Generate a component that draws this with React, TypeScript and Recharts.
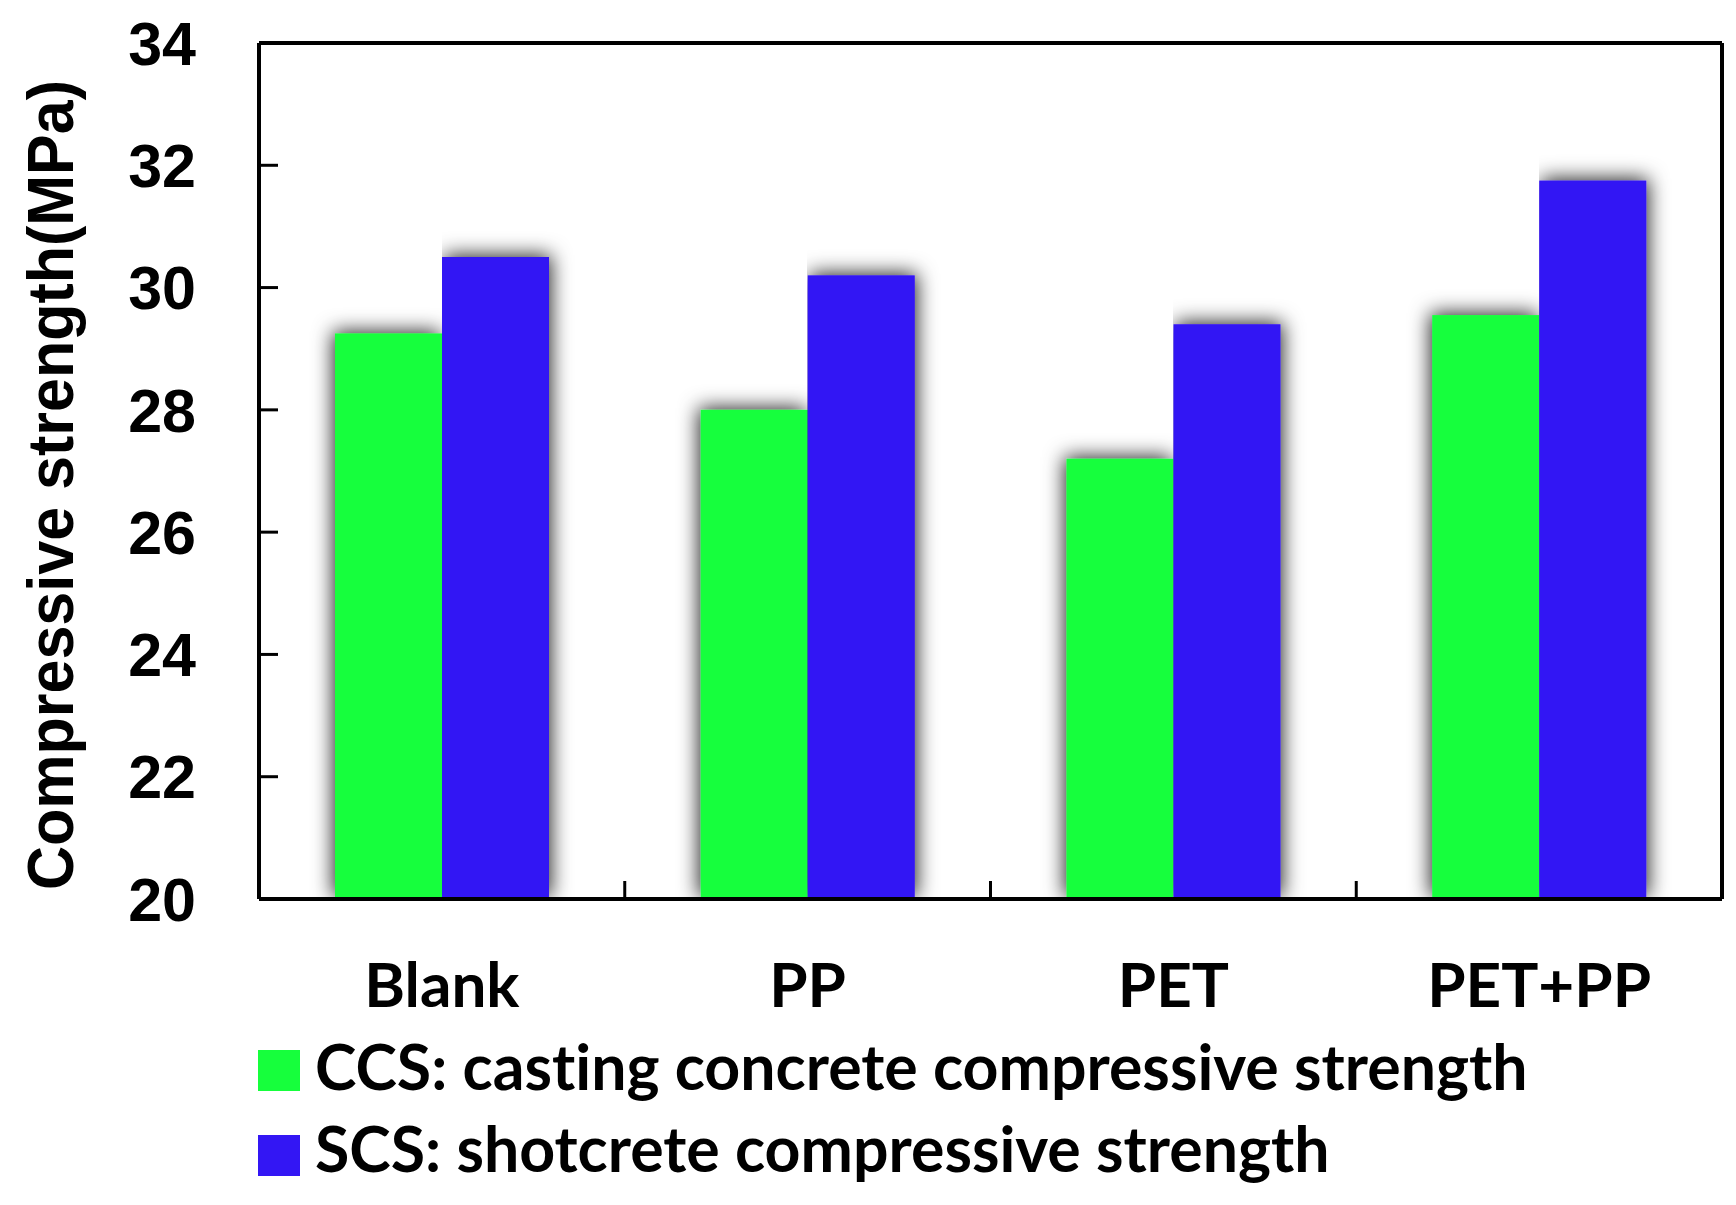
import { Bar, BarChart, Legend, XAxis, YAxis } from 'recharts';

const categories = ['Blank', 'PP', 'PET', 'PET+PP'];
const ccsValues = [29.25, 28.0, 27.2, 29.55];
const scsValues = [30.5, 30.2, 29.4, 31.75];
const yTicks = [20, 22, 24, 26, 28, 30, 32, 34];

const CCS_NAME = 'CCS: casting concrete compressive strength';
const SCS_NAME = 'SCS: shotcrete compressive strength';

const data = categories.map((name, i) => ({ name, ccs: ccsValues[i], scs: scsValues[i] }));

const GREEN = '#16ff3c';
const BLUE = '#3316f4';
const labelFont = 'Lato, "Open Sans", sans-serif';
const numberFont = '"Liberation Sans", Arial, sans-serif';
const X_TICK_MARGIN = 108;

function ShadowBar(props: any) {
  const { x, y, width, height, fill, filterId } = props;
  if (!height || height <= 0) return null;
  return <rect x={x} y={y} width={width} height={height} fill={fill} filter={`url(#${filterId})`} />;
}

// category label, plus the inward tick mark on the boundary to its right
function CategoryTick({ x, y, payload, index, width, visibleTicksCount }: any) {
  const half = payload.offset || width / visibleTicksCount / 2;
  const axisY = y - X_TICK_MARGIN;
  const isLast = index === visibleTicksCount - 1;
  return (
    <g>
      {!isLast && (
        <line x1={x + half} x2={x + half} y1={axisY} y2={axisY - 18} stroke="#000" strokeWidth={3} />
      )}
      <text
        x={x}
        y={y}
        textAnchor="middle"
        fontFamily={labelFont}
        fontWeight={700}
        fontSize={62}
        fill="#000"
        style={{ fontVariantLigatures: 'none' }}
      >
        {payload.value}
      </text>
    </g>
  );
}

function YLabel({ viewBox }: any) {
  const cx = viewBox.x + 14;
  const cy = viewBox.y + viewBox.height / 2 + 14;
  return (
    <text
      x={cx}
      y={cy}
      transform={`rotate(-90, ${cx}, ${cy})`}
      textAnchor="middle"
      fontFamily={numberFont}
      fontWeight={700}
      fontSize={65}
      textLength={810}
      lengthAdjust="spacingAndGlyphs"
      fill="#000"
    >
      Compressive strength(MPa)
    </text>
  );
}

function LegendBox({ payload }: any) {
  return (
    <svg width={1400} height={150} style={{ display: 'block' }}>
      {(payload || []).map((entry: any, i: number) => (
        <g key={entry.value}>
          <rect x={0} y={10 + 85 * i} width={42} height={41} fill={entry.color} />
          <text
            x={57}
            y={50 + 82 * i}
            fontFamily={labelFont}
            fontWeight={700}
            fontSize={62.6}
            fill="#000"
            style={{ fontVariantLigatures: 'none' }}
          >
            {entry.value}
          </text>
        </g>
      ))}
    </svg>
  );
}

export default function App() {
  return (
    <div style={{ position: 'absolute', left: 0, top: 0, width: 1736, height: 1205, background: '#fff' }}>
      <BarChart
        width={1736}
        height={1205}
        data={data}
        margin={{ top: 42, right: 13, bottom: 305, left: 59 }}
        barGap={0}
        barSize={107}
      >
        <defs>
          <filter id="shadowCcs" x="-40%" y="-12%" width="140%" height="112%">
            <feDropShadow dx="-2" dy="-2" stdDeviation="10" floodColor="#000" floodOpacity="0.85" />
          </filter>
          <filter id="shadowScs" x="0%" y="-12%" width="140%" height="112%">
            <feDropShadow dx="2" dy="-2" stdDeviation="10" floodColor="#000" floodOpacity="0.85" />
          </filter>
        </defs>
        <Bar
          dataKey="ccs"
          name={CCS_NAME}
          fill={GREEN}
          xAxisId="main"
          yAxisId="left"
          isAnimationActive={false}
          shape={(p: any) => <ShadowBar {...p} filterId="shadowCcs" />}
        />
        <Bar
          dataKey="scs"
          name={SCS_NAME}
          fill={BLUE}
          xAxisId="main"
          yAxisId="left"
          isAnimationActive={false}
          shape={(p: any) => <ShadowBar {...p} filterId="shadowScs" />}
        />
        <XAxis
          xAxisId="main"
          dataKey="name"
          height={1}
          tickSize={0}
          tickMargin={X_TICK_MARGIN}
          tickLine={false}
          axisLine={{ stroke: '#000', strokeWidth: 4 }}
          tick={<CategoryTick />}
          interval={0}
        />
        <XAxis
          xAxisId="top"
          orientation="top"
          dataKey="name"
          height={1}
          tick={false}
          tickLine={false}
          axisLine={{ stroke: '#000', strokeWidth: 4 }}
        />
        <YAxis
          yAxisId="left"
          width={200}
          domain={[20, 34]}
          ticks={yTicks}
          interval={0}
          tickSize={-19}
          tickMargin={82}
          axisLine={{ stroke: '#000', strokeWidth: 4 }}
          tickLine={{ stroke: '#000', strokeWidth: 3 }}
          tick={{ fill: '#000', fontSize: 61, fontWeight: 700, fontFamily: numberFont }}
          label={<YLabel />}
        />
        <YAxis
          yAxisId="right"
          orientation="right"
          width={1}
          domain={[20, 34]}
          tick={false}
          tickLine={false}
          axisLine={{ stroke: '#000', strokeWidth: 4 }}
        />
        <Legend
          layout="vertical"
          align="center"
          verticalAlign="middle"
          wrapperStyle={{ left: 258, top: 1040, width: 1400, height: 150 }}
          content={<LegendBox />}
        />
      </BarChart>
    </div>
  );
}
